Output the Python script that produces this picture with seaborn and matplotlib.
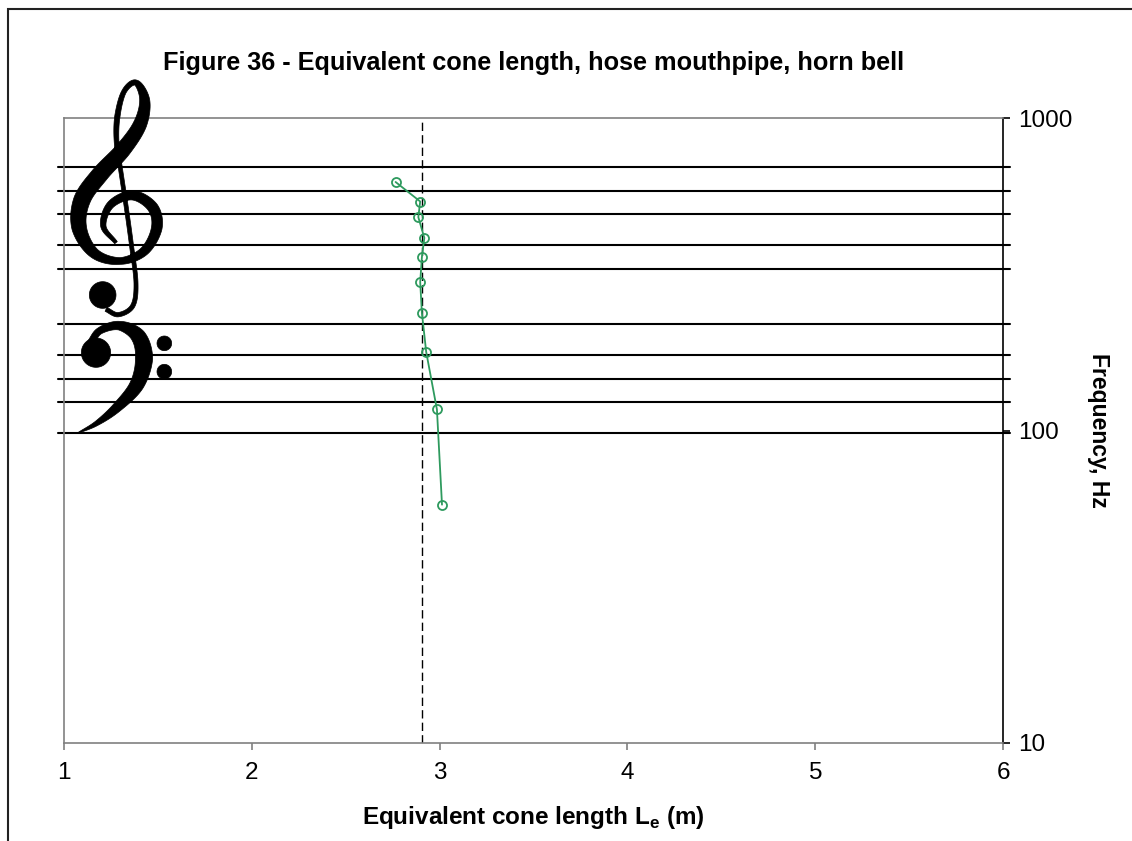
import numpy as np
import pandas as pd
import matplotlib
matplotlib.use("Agg")
import matplotlib.pyplot as plt
import seaborn as sns
from matplotlib.patches import Rectangle, Polygon

# ---- data ----
cone_length = [3.013, 2.986, 2.929, 2.906, 2.897, 2.906, 2.919, 2.887, 2.897, 2.766]
frequency = [57.9, 116.9, 178.5, 238.4, 299.0, 359.5, 414.5, 483.0, 542.0, 626.0]
reference_length = 2.905
staff_freqs = [698.46, 587.33, 493.88, 392.00, 329.63, 220.00, 174.61, 146.83, 123.47, 98.00]
x_ticks = [1, 2, 3, 4, 5, 6]
y_ticks = [10, 100, 1000]

sns.set_theme(style="white")
plt.rcParams['font.family'] = ['Liberation Sans', 'DejaVu Sans']
plt.rcParams['mathtext.fontset'] = 'custom'
plt.rcParams['mathtext.rm'] = 'Liberation Sans'
plt.rcParams['mathtext.bf'] = 'Liberation Sans:bold'
plt.rcParams['text.color'] = 'black'
plt.rcParams['axes.labelcolor'] = 'black'

W, H = 1132, 841
fig = plt.figure(figsize=(W / 100, H / 100), dpi=100)
ax = fig.add_axes([0.0563, 0.1169, 0.830, 0.7422])

df = pd.DataFrame({"L": cone_length, "f": frequency})
green = "#2E9A5E"
sns.lineplot(data=df, x="L", y="f", sort=False, estimator=None, ax=ax,
             color=green, lw=1.3, marker="o", markersize=6.5,
             markerfacecolor="none", markeredgecolor=green, markeredgewidth=1.3,
             zorder=3)

ax.set_yscale("log")
ax.set_xlim(1, 6)
ax.set_ylim(10, 1000)
ax.set_xticks(x_ticks)
ax.set_xticklabels([str(v) for v in x_ticks])
ax.set_yticks(y_ticks)
ax.set_yticklabels([str(v) for v in y_ticks])
ax.yaxis.set_minor_locator(matplotlib.ticker.NullLocator())
ax.yaxis.tick_right()
ax.yaxis.set_label_position("right")

# staff lines
for f in staff_freqs:
    ax.plot([-0.006, 1.0075], [f, f], transform=ax.get_yaxis_transform(),
            color="black", lw=1.5, clip_on=False, zorder=1)

# reference dashed line
ax.axvline(reference_length, color="black", lw=1.0, ls=(0, (6, 3)), zorder=1)

# spines
for s in ["left", "top", "bottom"]:
    ax.spines[s].set_color("#808080")
    ax.spines[s].set_linewidth(1.2)
ax.spines["right"].set_color("black")
ax.spines["right"].set_linewidth(1.2)

ax.tick_params(axis="x", direction="out", length=5, width=1.2, color="#808080",
               labelcolor="black", labelsize=17.5, pad=9, bottom=True)
ax.tick_params(axis="y", direction="out", length=5, width=1.2, color="black",
               labelcolor="black", labelsize=17.5, pad=6, right=True, left=False)

ax.set_xlabel(r"Equivalent cone length L$_{\mathbf{e}}$ (m)", fontsize=17.5,
              fontweight="bold", labelpad=14)
ax.set_ylabel("Frequency, Hz", fontsize=16.5, fontweight="bold", rotation=-90,
              labelpad=27)
ax.set_title("Figure 36 - Equivalent cone length, hose mouthpipe, horn bell",
             fontsize=18.2, fontweight="bold", pad=35)


# ---- clef symbols (no installed font has these glyphs), drawn as shapes ----
def to_fig(pts):
    pts = np.asarray(pts, float)
    px = pts[:, 0] / 3.0
    py = 60 + pts[:, 1] / 3.0
    return np.column_stack([px / W, 1 - py / H])


def catmull(P, n=16):
    P = np.asarray(P, float)
    Q = np.vstack([2 * P[0] - P[1], P, 2 * P[-1] - P[-2]])
    out = []
    for i in range(1, len(Q) - 2):
        p0, p1, p2, p3 = Q[i - 1], Q[i], Q[i + 1], Q[i + 2]
        for t in np.linspace(0, 1, n, endpoint=False):
            t2, t3 = t * t, t * t * t
            out.append(0.5 * ((2 * p1) + (-p0 + p2) * t +
                              (2 * p0 - 5 * p1 + 4 * p2 - p3) * t2 +
                              (-p0 + 3 * p1 - 3 * p2 + p3) * t3))
    out.append(P[-1])
    return np.array(out)


def stroke(points, widths, n=16):
    C = catmull(points, n)
    wv = np.interp(np.linspace(0, len(widths) - 1, len(C)),
                   np.arange(len(widths)), widths)
    T = np.gradient(C, axis=0)
    T /= np.linalg.norm(T, axis=1)[:, None] + 1e-9
    N = np.column_stack([-T[:, 1], T[:, 0]])
    left = C + N * wv[:, None] / 2
    right = C - N * wv[:, None] / 2
    poly = np.vstack([left, right[::-1]])
    fig.add_artist(Polygon(to_fig(poly), closed=True, transform=fig.transFigure,
                           facecolor="black", edgecolor="black", lw=0.5))


def disc(cx, cy, r):
    a = np.linspace(0, 2 * np.pi, 60)
    pts = np.column_stack([cx + r * np.cos(a), cy + r * np.sin(a)])
    fig.add_artist(Polygon(to_fig(pts), closed=True, transform=fig.transFigure,
                           facecolor="black", edgecolor="black", lw=0.5))


treble = [(348, 548), (310, 498), (332, 434), (398, 406), (458, 442), (470, 505),
          (432, 574), (360, 603), (283, 580), (238, 505), (246, 420), (300, 343),
          (370, 268), (420, 193), (434, 120), (408, 68), (372, 95), (352, 170),
          (350, 250), (362, 330), (380, 450), (395, 560), (408, 670), (398, 738),
          (355, 764), (318, 748)]
treble_w = [10, 16, 22, 28, 32, 32, 26, 20, 30, 44, 50, 50, 46, 40, 30, 16, 14,
            16, 14, 12, 12, 12, 12, 13, 13, 13]
stroke(treble, treble_w)
disc(308, 705, 40)

bass = [(272, 848), (300, 812), (358, 797), (414, 828), (432, 895), (410, 975),
        (350, 1043), (290, 1090), (236, 1118)]
bass_w = [20, 20, 26, 44, 52, 42, 28, 14, 3]
stroke(bass, bass_w)
disc(288, 878, 44)
disc(493, 850, 22)
disc(493, 935, 22)

# outer frame
fig.add_artist(Rectangle((8 / W, -0.1), 1.2, 1 - 9 / H + 0.1,
                         transform=fig.transFigure, fill=False,
                         edgecolor="#222222", lw=1.5))

fig.savefig("out.png", dpi=100)
